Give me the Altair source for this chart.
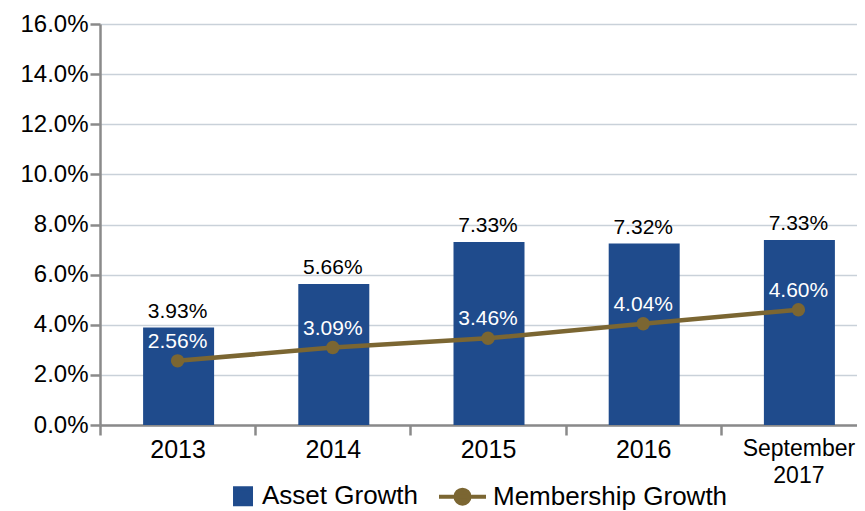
import altair as alt
import pandas as pd

categories = ["2013", "2014", "2015", "2016", "September 2017"]
asset_growth = [3.89, 5.63, 7.30, 7.24, 7.38]        # bar heights as drawn (%)
asset_labels = [3.93, 5.66, 7.33, 7.32, 7.33]        # printed values (%)
membership_growth = [2.56, 3.09, 3.46, 4.04, 4.60]   # (%)
series_names = ["Asset Growth", "Membership Growth"]
y_ticks = [0.0, 0.02, 0.04, 0.06, 0.08, 0.10, 0.12, 0.14, 0.16]

BLUE = "#1f4b8c"
OLIVE = "#7b6632"
FONT = "Liberation Sans"

bars_df = pd.DataFrame({
    "cat": categories,
    "value": [v / 100 for v in asset_growth],
    "label": [f"{v:.2f}%" for v in asset_labels],
    "series": series_names[0],
})
line_df = pd.DataFrame({
    "cat": categories,
    "value": [v / 100 for v in membership_growth],
    "label": [f"{v:.2f}%" for v in membership_growth],
    "series": series_names[1],
})

x_enc = alt.X(
    "cat:N", sort=categories,
    scale=alt.Scale(range=[0, 776], paddingInner=0, paddingOuter=0),
    axis=alt.Axis(
        title=None, labelAngle=0, tickBand="extent", grid=False,
        labelExpr="datum.value == 'September 2017' ? ['September', '2017'] : datum.value",
        labelFont=FONT, labelColor="black", labelPadding=2,
        labelFontSize={"condition": {"test": "datum.value == 'September 2017'", "value": 23}, "value": 25},
        labelLineHeight=27, labelBaseline="top",
    ),
)
y_enc = alt.Y(
    "value:Q",
    scale=alt.Scale(domain=[0, 0.16], nice=False, zero=True),
    axis=alt.Axis(
        title=None, values=y_ticks, format=".1%", grid=True,
        labelFont=FONT, labelFontSize=24, labelColor="black", labelPadding=2,
    ),
)

legend = alt.Legend(
    title=None, orient="none", legendX=106, legendY=446.5, direction="horizontal",
    labelFont=FONT, labelFontSize=26, labelColor="black", labelOffset=5, labelLimit=400,
    columnPadding=12, padding=0, symbolSize=2209, symbolStrokeWidth=4, symbolOpacity=1,
    symbolType=alt.ExprRef(expr=(
        "datum.value == 'Asset Growth' ? 'M0.15,-0.34H0.83V0.34H0.15Z' : "
        "'M-1,0H1M-0.3,0A0.3,0.3 0 1,1 0.3,0A0.3,0.3 0 1,1 -0.3,0Z'"
    )),
)
color_enc = alt.Color(
    "series:N",
    scale=alt.Scale(domain=series_names, range=[BLUE, OLIVE]),
    legend=legend,
)

bars = alt.Chart(bars_df).mark_bar(width=71, xOffset=1).encode(x=x_enc, y=y_enc, color=color_enc)
bar_text = alt.Chart(bars_df).mark_text(
    baseline="alphabetic", dy=-10, font=FONT, fontSize=21, color="black"
).encode(x=x_enc, y=y_enc, text="label:N")

line = alt.Chart(line_df).mark_line(strokeWidth=4.5).encode(x=x_enc, y=y_enc, color=color_enc)
points = alt.Chart(line_df).mark_circle(size=180, opacity=1, color=OLIVE).encode(x=x_enc, y=y_enc)
line_text = alt.Chart(line_df).mark_text(
    baseline="alphabetic", dy=-13, font=FONT, fontSize=21, color="white"
).encode(x=x_enc, y=y_enc, text="label:N")

chart = alt.layer(bars, bar_text, line, points, line_text).properties(
    width=757, height=401,
    autosize=alt.AutoSizeParams(type="none"),
    padding={"left": 92, "top": 16, "right": 0, "bottom": 86},
).configure_view(stroke=None).configure_axis(
    gridColor="#c9d1d9", gridWidth=1.5,
    domainColor="#8a8a8a", domainWidth=2.5,
    tickColor="#8a8a8a", tickWidth=2.5, tickSize=10,
)

chart.save("out.html", embed_options={"renderer": "svg", "actions": False})
